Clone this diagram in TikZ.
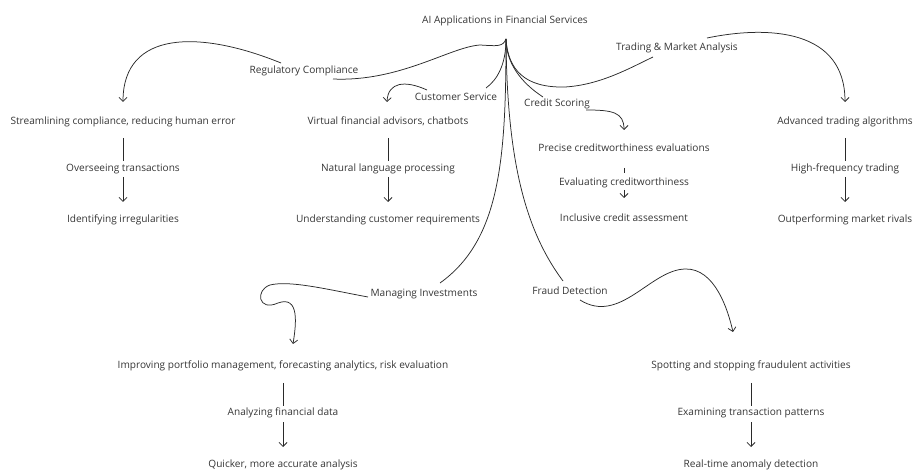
\documentclass[tikz,border=0pt]{standalone}
\usepackage{fontspec}
\setmainfont{Open Sans}
\usetikzlibrary{arrows.meta,calc}
\definecolor{ink}{HTML}{2A2A2A}
\definecolor{txt}{HTML}{353535}
\begin{document}
\begin{tikzpicture}[x=1pt,y=-1pt,
  lbl/.style={font=\fontsize{10.1}{12}\selectfont, text=txt, inner sep=0pt,
              text height=7.5pt, text depth=2pt},
  link/.style={draw=ink, line width=0.75pt},
  arr/.style={link, -{Straight Barb[length=4pt,width=8pt]}},
]
\useasboundingbox (0,0) rectangle (914,473);

% root and branch labels
\node[lbl] (root)  at (505,21)  {AI Applications in Financial Services};
\node[lbl] (reg)   at (304,71)  {Regulatory Compliance};
\node[lbl] (cust)  at (456,98)  {Customer Service};
\node[lbl] (cred)  at (557,104) {Credit Scoring};
\node[lbl] (trad)  at (677,48)  {Trading \& Market Analysis};
\node[lbl] (inv)   at (424,294) {Managing Investments};
\node[lbl] (fraud) at (570,292) {Fraud Detection};

% regulatory compliance chain
\node[lbl] (r1) at (123,122) {Streamlining compliance, reducing human error};
\node[lbl] (r2) at (123,169) {Overseeing transactions};
\node[lbl] (r3) at (123,220) {Identifying irregularities};
% customer service chain
\node[lbl] (c1) at (388,122) {Virtual financial advisors, chatbots};
\node[lbl] (c2) at (388,169) {Natural language processing};
\node[lbl] (c3) at (388,220) {Understanding customer requirements};
% credit scoring chain
\node[lbl] (s1) at (624,149) {Precise creditworthiness evaluations};
\node[lbl] (s2) at (624,183) {Evaluating creditworthiness};
\node[lbl] (s3) at (624,219) {Inclusive credit assessment};
% trading chain
\node[lbl] (t1) at (845,122) {Advanced trading algorithms};
\node[lbl] (t2) at (845,169) {High-frequency trading};
\node[lbl] (t3) at (845,220) {Outperforming market rivals};
% investments chain
\node[lbl] (i1) at (283,366) {Improving portfolio management, forecasting analytics, risk evaluation};
\node[lbl] (i2) at (283,413) {Analyzing financial data};
\node[lbl] (i3) at (283,465) {Quicker, more accurate analysis};
% fraud chain
\node[lbl] (f1) at (751,366) {Spotting and stopping fraudulent activities};
\node[lbl] (f2) at (751,413) {Examining transaction patterns};
\node[lbl] (f3) at (751,465) {Real-time anomaly detection};

% connector end points
\coordinate (hub)      at ($(root)+(1,18)$);
\coordinate (regIn)    at ($(reg)+(29,8)$);
\coordinate (regOut)   at ($(reg)+(-23,-8)$);
\coordinate (custIn)   at ($(cust)+(30,-10)$);
\coordinate (custOut)  at ($(cust)+(-29,-8)$);
\coordinate (credIn)   at ($(cred)+(-14,-7)$);
\coordinate (credOut)  at ($(cred)+(29,6)$);
\coordinate (tradIn)   at ($(trad)+(-24,9)$);
\coordinate (tradOut)  at ($(trad)+(30,-10)$);
\coordinate (invIn)    at ($(inv)+(16,-11)$);
\coordinate (invOut)   at ($(inv)+(-56,3)$);
\coordinate (fraudIn)  at ($(fraud)+(-7,-11)$);
\coordinate (fraudOut) at ($(fraud)+(10,8)$);

% root to branches
\draw[link] (hub) .. controls (503,47) and (497,46) .. (480,45)
            .. controls (450,47) and (400,82) .. (regIn);
\draw[link] (hub) .. controls (506,65) and (497,80) .. (custIn);
\draw[link] (hub) .. controls (506,62) and (520,82) .. (credIn);
\draw[link] (hub) .. controls (508,70) and (525,88) .. (565,87)
            .. controls (600,85) and (630,68) .. (tradIn);
\draw[link] (hub) .. controls (506,160) and (500,240) .. (invIn);
\draw[link] (hub) .. controls (507,160) and (525,230) .. (fraudIn);

% branches to first items
\draw[arr] (regOut) .. controls (200,30) and (123,30) .. ($(r1)+(0,-20)$);
\draw[arr] (custOut) .. controls (405,80) and (388,82) .. ($(c1)+(-1,-20)$);
\draw[arr] (credOut) .. controls (612,110) and (624,112) .. ($(s1)+(0,-19)$);
\draw[arr] (tradOut) .. controls (770,25) and (845,30) .. ($(t1)+(0,-20)$);
\draw[arr] (invOut) .. controls (330,290) and (290,280) .. (270,285)
           .. controls (255,290) and (258,312) .. (278,303)
           .. controls (300,295) and (296,325) .. ($(i1)+(10,-22)$);
\draw[arr] (fraudOut) .. controls (620,325) and (650,270) .. (685,269)
           .. controls (715,268) and (728,310) .. ($(f1)+(-18,-34)$);

% item chains
\foreach \a/\b/\c in {r1/r2/r3, c1/c2/c3, t1/t2/t3}{
  \draw[link] ($(\a)+(0,16)$) -- ($(\b)+(0,-8)$);
  \draw[arr]  ($(\b)+(0,8)$)  -- ($(\c)+(0,-18)$);
}
\draw[link] ($(s1)+(0,19)$) -- ($(s2)+(0,-10)$);
\draw[arr]  ($(s2)+(0,7)$)  -- ($(s3)+(0,-21)$);
\foreach \a/\b/\c in {i1/i2/i3, f1/f2/f3}{
  \draw[link] ($(\a)+(0,17)$) -- ($(\b)+(0,-7)$);
  \draw[arr]  ($(\b)+(0,9)$)  -- ($(\c)+(0,-18)$);
}
\end{tikzpicture}
\end{document}
